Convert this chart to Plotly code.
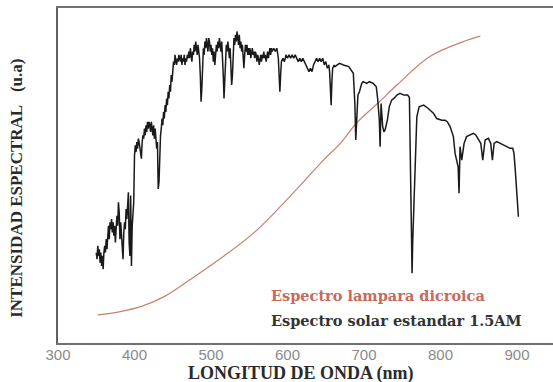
import plotly.graph_objects as go

# Standard solar spectrum AM1.5 (normalised, arbitrary units)
solar_nm = [
    350, 351, 352, 353, 354, 355, 356, 357, 358, 359, 360, 361, 362, 363, 364, 365, 366, 367, 368, 369,
    370, 371, 372, 373, 374, 375, 376, 377, 378, 379, 380, 381, 382, 383, 384, 385, 386, 387, 388, 389,
    390, 391, 392, 393, 394, 395, 396, 397, 398, 399, 400, 401, 402, 403, 404, 405, 406, 407, 408, 409,
    410, 411, 412, 413, 414, 415, 416, 417, 418, 419, 420, 421, 422, 423, 424, 425, 426, 427, 428, 429,
    430, 431, 432, 433, 434, 435, 436, 437, 438, 439, 440, 441, 442, 443, 444, 445, 446, 447, 448, 449,
    450, 451, 452, 453, 454, 455, 456, 457, 458, 459, 460, 461, 462, 463, 464, 465, 466, 467, 468, 469,
    470, 471, 472, 473, 474, 475, 476, 477, 478, 479, 480, 481, 482, 483, 484, 485, 486, 487, 488, 489,
    490, 491, 492, 493, 494, 495, 496, 497, 498, 499, 500, 501, 502, 503, 504, 505, 506, 507, 508, 509,
    510, 511, 512, 513, 514, 515, 516, 517, 518, 519, 520, 521, 522, 523, 524, 525, 526, 527, 528, 529,
    530, 531, 532, 533, 534, 535, 536, 537, 538, 539, 540, 541, 542, 543, 544, 545, 546, 547, 548, 549,
    550, 551, 552, 553, 554, 555, 556, 557, 558, 559, 560, 561, 562, 563, 564, 565, 566, 567, 568, 569,
    570, 571, 572, 573, 574, 575, 576, 577, 578, 579, 580, 582, 584, 586, 588, 589, 590, 591, 592, 594,
    596, 598, 600, 602, 604, 606, 608, 610, 612, 614, 616, 618, 620, 622, 624, 626, 628, 630, 632, 634,
    636, 638, 640, 642, 644, 646, 648, 650, 652, 654, 655, 656, 657, 658, 659, 661, 662, 665, 668, 673,
    680, 686, 688, 689.2, 690.5, 692, 694, 697, 699, 703.5, 707, 712, 716, 718, 720, 721, 722.3, 724.4, 726, 727.5,
    730.5, 733, 736, 739, 743, 747, 752, 757, 759.3, 760.5, 761.5, 762.8, 763.6, 764.5, 766, 767.2, 769, 772, 778, 784,
    791, 795, 801.6, 806, 809, 812.5, 816.8, 819, 821, 823, 824.2, 825.5, 827.7, 830.8, 834, 838.6, 843, 846, 849.5, 852.6,
    855.2, 858.2, 862.6, 865.6, 867.8, 870, 873.5, 878, 882, 886.5, 891, 894.4, 896, 897.4, 898.7, 900.5, 901.8,
]
solar_val = [
    0.27, 0.25, 0.29, 0.26, 0.28, 0.24, 0.27, 0.23, 0.26, 0.22, 0.27, 0.29, 0.27, 0.31, 0.28, 0.33, 0.35, 0.31, 0.36, 0.34,
    0.37, 0.33, 0.36, 0.32, 0.35, 0.30, 0.33, 0.38, 0.35, 0.42, 0.39, 0.31, 0.36, 0.33, 0.27, 0.25, 0.33, 0.36, 0.34, 0.40,
    0.37, 0.43, 0.45, 0.30, 0.26, 0.44, 0.23, 0.35, 0.40, 0.42, 0.56, 0.59, 0.57, 0.60, 0.58, 0.61, 0.60, 0.58, 0.56, 0.55,
    0.60, 0.62, 0.61, 0.64, 0.62, 0.65, 0.63, 0.66, 0.64, 0.66, 0.65, 0.63, 0.66, 0.64, 0.62, 0.65, 0.61, 0.64, 0.60, 0.58,
    0.60, 0.46, 0.48, 0.58, 0.62, 0.64, 0.67, 0.65, 0.69, 0.67, 0.71, 0.69, 0.73, 0.71, 0.75, 0.73, 0.77, 0.75, 0.80, 0.78,
    0.82, 0.84, 0.83, 0.86, 0.84, 0.83, 0.85, 0.84, 0.86, 0.85, 0.84, 0.86, 0.83, 0.85, 0.84, 0.86, 0.83, 0.85, 0.84, 0.86,
    0.85, 0.87, 0.85, 0.88, 0.86, 0.84, 0.87, 0.86, 0.89, 0.87, 0.90, 0.88, 0.86, 0.89, 0.87, 0.85, 0.80, 0.72, 0.76, 0.86,
    0.88, 0.86, 0.90, 0.88, 0.91, 0.89, 0.87, 0.91, 0.90, 0.87, 0.89, 0.86, 0.88, 0.84, 0.87, 0.83, 0.86, 0.89, 0.87, 0.90,
    0.88, 0.91, 0.89, 0.87, 0.90, 0.86, 0.80, 0.73, 0.78, 0.86, 0.89, 0.87, 0.90, 0.88, 0.85, 0.88, 0.84, 0.77, 0.80, 0.88,
    0.91, 0.89, 0.92, 0.90, 0.93, 0.91, 0.89, 0.92, 0.88, 0.90, 0.87, 0.89, 0.85, 0.82, 0.86, 0.89, 0.87, 0.89, 0.86, 0.88,
    0.86, 0.88, 0.85, 0.87, 0.88, 0.86, 0.87, 0.85, 0.87, 0.86, 0.84, 0.86, 0.85, 0.83, 0.85, 0.86, 0.84, 0.86, 0.85, 0.87,
    0.85, 0.86, 0.84, 0.86, 0.87, 0.85, 0.87, 0.88, 0.86, 0.88, 0.87, 0.88, 0.87, 0.88, 0.85, 0.79, 0.75, 0.80, 0.84, 0.85,
    0.84, 0.86, 0.85, 0.86, 0.85, 0.86, 0.85, 0.86, 0.85, 0.84, 0.85, 0.84, 0.85, 0.84, 0.83, 0.82, 0.81, 0.82, 0.81, 0.83,
    0.84, 0.85, 0.84, 0.85, 0.84, 0.85, 0.83, 0.84, 0.82, 0.83, 0.81, 0.72, 0.71, 0.78, 0.82, 0.83, 0.825, 0.83, 0.835, 0.83,
    0.825, 0.805, 0.715, 0.606, 0.70, 0.74, 0.75, 0.775, 0.78, 0.775, 0.78, 0.775, 0.765, 0.725, 0.665, 0.586, 0.715, 0.646, 0.63, 0.636,
    0.665, 0.705, 0.725, 0.73, 0.74, 0.745, 0.74, 0.74, 0.733, 0.55, 0.40, 0.208, 0.30, 0.367, 0.48, 0.566, 0.675, 0.705, 0.71, 0.70,
    0.685, 0.67, 0.665, 0.665, 0.66, 0.646, 0.616, 0.566, 0.546, 0.526, 0.447, 0.586, 0.546, 0.596, 0.616, 0.621, 0.626, 0.621, 0.606, 0.596,
    0.546, 0.606, 0.611, 0.596, 0.546, 0.596, 0.601, 0.596, 0.591, 0.586, 0.581, 0.581, 0.566, 0.526, 0.476, 0.427, 0.377,
]

# Dichroic lamp emission spectrum (normalised, arbitrary units)
lamp_nm = [352, 380, 410, 440, 472, 516, 560, 603, 647, 669, 690, 720, 743, 786, 829, 852]
lamp_val = [0.084, 0.093, 0.110, 0.140, 0.188, 0.258, 0.337, 0.437, 0.546, 0.596, 0.656, 0.720, 0.770, 0.855, 0.899, 0.916]

x_ticks = [300, 400, 500, 600, 700, 800, 900]

title_font = "Liberation Serif, Times New Roman, serif"
label_font = "DejaVu Serif, serif"

fig = go.Figure()
fig.add_trace(go.Scatter(
    x=lamp_nm, y=lamp_val, mode="lines",
    line=dict(color="#c9806e", width=1.2, shape="spline"),
    hoverinfo="skip",
))
fig.add_trace(go.Scatter(
    x=solar_nm, y=solar_val, mode="lines",
    line=dict(color="#1a1a1a", width=1.5),
    hoverinfo="skip",
))

fig.update_layout(
    width=553, height=382,
    margin=dict(l=58, r=0, t=8, b=39),
    paper_bgcolor="white", plot_bgcolor="white",
    showlegend=False,
    xaxis=dict(
        range=[300, 947], tickvals=x_ticks, ticktext=[str(v) for v in x_ticks],
        showgrid=False, zeroline=False,
        showline=True, linecolor="#707070", linewidth=2, mirror=True,
        ticks="", ticklabelstandoff=-3,
        tickfont=dict(family="Liberation Sans, Arial, sans-serif", size=15, color="#8a8a8a"),
    ),
    yaxis=dict(
        range=[0, 1], showticklabels=False, showgrid=False, zeroline=False,
        showline=True, linecolor="#606060", linewidth=2, ticks="",
    ),
    annotations=[
        dict(text="<b>LONGITUD DE ONDA (nm)</b>", xref="paper", yref="paper",
             x=0.491, y=-0.092, xanchor="center", yanchor="middle", showarrow=False,
             font=dict(family=title_font, size=18, color="#2a2a2a")),
        dict(text="<b>INTENSIDAD ESPECTRAL\u00a0\u00a0\u00a0(u.a)</b>", xref="paper", yref="paper",
             x=-0.083, y=0.463, xanchor="center", yanchor="middle", textangle=-90, showarrow=False,
             font=dict(family=title_font, size=17, color="#2a2a2a")),
        dict(text="<b>Espectro lampara dicroica</b>", xref="paper", yref="paper",
             x=0.426, y=0.143, xanchor="left", yanchor="middle", showarrow=False,
             font=dict(family=label_font, size=14.5, color="#c8695a")),
        dict(text="<b>Espectro solar estandar 1.5AM</b>", xref="paper", yref="paper",
             x=0.426, y=0.066, xanchor="left", yanchor="middle", showarrow=False,
             font=dict(family=label_font, size=14.5, color="#333333")),
    ],
)

fig.write_html("out.html")
